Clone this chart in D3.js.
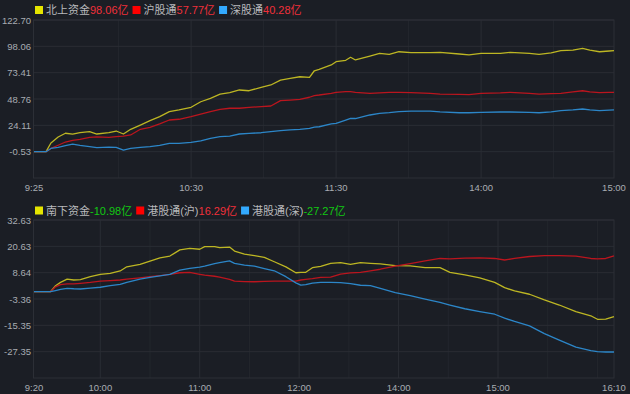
<!DOCTYPE html>
<html>
<head>
<meta charset="utf-8">
<script src="https://cdn.jsdelivr.net/npm/d3@7"></script>
<style>
  body { margin: 0; background: #1b1e25; }
  svg { display: block; }
</style>
</head>
<body>
<svg id="chart" width="630" height="394"></svg>
<script>
// ---- top panel: northbound (minute index, 9:25 = 0, lunch break removed)
const topMinutes = [0, 5, 7, 10, 13, 16, 19, 23, 26, 31, 34, 37, 40, 44, 48, 52, 56, 60, 65, 69,
  73, 77, 81, 85, 89, 94, 98, 102, 106, 110, 114, 116, 118, 123, 125, 129, 131, 133, 139, 143,
  147, 151, 156, 164, 168, 176, 180, 185, 193, 197, 205, 209, 214, 218, 223, 227, 230, 234, 238, 240];
const northTotal = [-0.53, -0.53, 7.6, 13.2, 16.7, 15.8, 17.2, 18.2, 16, 17.2, 18.8, 16, 20.4, 24.4, 28.5, 32.2, 36.9, 38.5, 41, 46.2,
  49.4, 53.4, 54.7, 57.2, 56.5, 59.7, 61.9, 66.5, 68.1, 69.6, 69, 75.2, 76.5, 80.6, 83.7, 85, 87.8, 85.3, 89, 91.5,
  90.6, 93, 92.1, 92.1, 92.4, 90.9, 90, 91.5, 91.5, 92.4, 91.5, 90.6, 92, 94, 94.6, 96.2, 94.6, 93, 93.7, 94];
const shConnect = [-0.53, -0.53, 2.5, 5.5, 8.5, 10, 11, 12.9, 13.3, 12.9, 13.5, 14.1, 15.1, 20.4, 22.3, 25.4, 29.1, 29.8, 32.2, 34.7,
  36.9, 39.1, 40.1, 40.1, 41, 41.6, 42.2, 47.2, 47.8, 48.5, 50.4, 52, 52.5, 54.1, 55, 55.6, 55.6, 55, 54.1, 54.5,
  55, 55, 54.8, 54, 53.4, 53, 52.8, 54.1, 54.5, 55, 54, 53.4, 53.8, 54.1, 55.5, 56.5, 55.5, 54.8, 55, 55];
const szConnect = [-0.53, -0.53, 2.5, 3.5, 5.2, 6.6, 5.4, 4.1, 3.2, 3.8, 3.5, 1.0, 2.6, 3.5, 4.1, 5.4, 7.3, 7.3, 8.2, 9.5,
  12, 13.5, 14.1, 16, 16.6, 17.2, 18.2, 19.1, 19.8, 20.4, 21.3, 22.5, 22.8, 25.4, 26, 29.1, 30.7, 30.5, 33.8, 35.4,
  36, 36.9, 37.5, 37.5, 36.8, 35.9, 35.9, 36.2, 36.6, 36.6, 36.3, 35.9, 36.8, 37.8, 38.5, 39.4, 38.5, 37.8, 38.3, 38.5];
const topYTicks = [122.70, 98.06, 73.41, 48.76, 24.11, -0.53];
const topYMin = -25.17;
const topXTicks = [0, 65, 125, 185, 240];
const topXLabels = ["9:25", "10:30", "11:30", "14:00", "15:00"];
const topXGrid = [35, 65, 95, 125, 155, 185, 215];
const topNames = ["北上资金", "沪股通", "深股通"];
const topValues = ["98.06亿", "57.77亿", "40.28亿"];

// ---- bottom panel: southbound (minute index, 9:20 = 0, lunch break removed)
const botMinutes = [0, 10, 13, 16, 20, 24, 28, 34, 40, 46, 52, 56, 64, 70, 76, 82, 88, 94, 100, 103,
  109, 112, 118, 121, 127, 133, 139, 145, 152, 158, 161, 164, 168, 173, 179, 185, 191, 197, 203, 209,
  218, 227, 236, 245, 251, 260, 269, 278, 284, 290, 299, 308, 317, 327, 336, 340, 345, 350];
const southTotal = [0, 0, 2.7, 4.2, 5.7, 5.3, 5.5, 6.8, 7.9, 8.3, 9.4, 11.3, 12.4, 13.9, 15.4, 16.2, 19, 19.7, 19.3, 20.5,
  20.5, 20, 20.3, 18.5, 17.1, 16.4, 15.6, 13.6, 11.3, 8.6, 8.8, 8.8, 10.9, 11.5, 12.9, 13.2, 12.4, 13.2, 12.9, 12.6,
  11.8, 11.7, 10.9, 10.9, 8.8, 7.6, 6.3, 4.2, 1.8, 0.3, -1.2, -3.8, -6.1, -9.1, -11, -12.6, -12.5, -11.4];
const hkSh = [0, 0, 2.2, 3.2, 3.5, 3.5, 3.8, 4.2, 4.8, 5.0, 5.3, 5.7, 6.3, 6.8, 7.3, 7.9, 8.6, 8.8, 7.9, 7.5,
  7.0, 6.6, 5.6, 4.8, 4.6, 4.5, 4.7, 4.8, 4.8, 4.8, 5.3, 5.6, 5.9, 6.5, 6.6, 8.0, 8.5, 8.8, 9.5, 10.2,
  11.6, 12.8, 14, 15.1, 14.9, 15.3, 15.4, 15.1, 14.4, 15.1, 16.0, 16.4, 16.4, 16.2, 15.1, 14.9, 15.1, 16.3];
const hkSz = [0, 0, 0.5, 1.0, 1.5, 1.3, 1.2, 1.6, 2.0, 2.7, 3.3, 4.2, 5.7, 6.5, 7.2, 7.9, 9.8, 10.6, 11.2, 11.6,
  12.8, 13.2, 14.0, 12.9, 12.1, 11.6, 10.5, 9.5, 6.8, 4.0, 3.0, 3.2, 3.9, 4.2, 4.2, 4.1, 3.6, 2.9, 2.7, 1.5,
  -0.5, -1.8, -3.4, -4.9, -6.1, -7.8, -9.1, -10.3, -12.1, -13.6, -15.6, -19.1, -22.1, -25.3, -26.9, -27.3, -27.5, -27.5];
const botYTicks = [32.63, 20.63, 8.64, -3.36, -15.35, -27.35];
const botYMin = -39.35;
const botXTicks = [0, 40, 100, 160, 220, 280, 350];
const botXLabels = ["9:20", "10:00", "11:00", "12:00", "14:00", "15:00", "16:10"];
const botXGrid = [40, 70, 100, 130, 160, 190, 220, 250, 280, 310, 340];
const botNames = ["南下资金", "港股通(沪)", "港股通(深)"];
const botValues = ["-10.98亿", "16.29亿", "-27.27亿"];

const lineColors = ["#bdb623", "#bb151e", "#2c86c8"];
const keyColors = ["#e5e500", "#ff0000", "#33aaff"];
const upColor = "#f0303a", downColor = "#12c812";
const font = "Arial, 'Liberation Sans', 'Noto Sans CJK SC', sans-serif";

const svg = d3.select("#chart");
svg.append("rect").attr("width", 630).attr("height", 394).attr("fill", "#1b1e25");

function drawPanel(p) {
  const x = d3.scaleLinear().domain([0, p.xMax]).range([34, 614]);
  const y = d3.scaleLinear().domain([p.yMin, p.yTicks[0]]).range([p.bottom, p.top]);
  const g = svg.append("g");

  // vertical grid
  g.selectAll("line.vgrid").data(p.xGrid).join("line")
    .attr("class", "vgrid")
    .attr("x1", d => x(d)).attr("x2", d => x(d))
    .attr("y1", p.top).attr("y2", p.bottom)
    .attr("stroke", d => p.xTicks.includes(d) ? "#2a2d34" : "#23262d");

  // horizontal grid
  g.selectAll("line.hgrid").data(p.yTicks).join("line")
    .attr("class", "hgrid")
    .attr("x1", 34).attr("x2", 614)
    .attr("y1", d => y(d)).attr("y2", d => y(d))
    .attr("stroke", "#2a2d34");

  // frame
  g.append("rect")
    .attr("x", 33.5).attr("y", p.top).attr("width", 580.5).attr("height", p.bottom - p.top)
    .attr("fill", "none").attr("stroke", "#2c2f36");

  // lines
  const line = d3.line().x(d => x(d[0])).y(d => y(d[1]));
  p.series.forEach((s, i) => {
    g.append("path")
      .datum(p.minutes.map((m, j) => [m, s[j]]))
      .attr("d", line)
      .attr("fill", "none")
      .attr("stroke", lineColors[i])
      .attr("stroke-width", 1.3)
      .attr("stroke-linejoin", "round");
  });

  // y labels
  p.yTicks.forEach(v => {
    g.append("text")
      .attr("class", "ylabel")
      .attr("x", 31).attr("y", y(v) + 3.5)
      .attr("text-anchor", "end")
      .attr("fill", "#a8acb2").attr("font-size", 9.5).attr("font-family", font)
      .text(v.toFixed(2));
  });

  // x labels
  p.xTicks.forEach((m, i) => {
    g.append("text")
      .attr("class", "xlabel")
      .attr("x", x(m)).attr("y", p.bottom + 12.5)
      .attr("text-anchor", "middle")
      .attr("fill", "#a8acb2").attr("font-size", 9.5).attr("font-family", font)
      .text(p.xLabels[i]);
  });

  // legend
  let lx = 35;
  const ly = p.legendY;
  p.names.forEach((name, i) => {
    g.append("rect").attr("x", lx).attr("y", ly - 4).attr("width", 8).attr("height", 8)
      .attr("fill", keyColors[i]);
    lx += 11;
    const t1 = g.append("text").attr("x", lx).attr("y", ly + 4)
      .attr("fill", "#b8b9bc").attr("font-size", 11).attr("font-family", font).text(name);
    lx += t1.node().getComputedTextLength();
    const v = p.values[i];
    const t2 = g.append("text").attr("x", lx).attr("y", ly + 4)
      .attr("fill", v.startsWith("-") ? downColor : upColor)
      .attr("font-size", 11).attr("font-family", font).text(v);
    lx += t2.node().getComputedTextLength() + 4;
  });
}

drawPanel({
  top: 20, bottom: 178, legendY: 10,
  xMax: 240, xTicks: topXTicks, xLabels: topXLabels, xGrid: topXGrid,
  yTicks: topYTicks, yMin: topYMin,
  minutes: topMinutes, series: [northTotal, shConnect, szConnect],
  names: topNames, values: topValues
});

drawPanel({
  top: 220, bottom: 378, legendY: 210.5,
  xMax: 350, xTicks: botXTicks, xLabels: botXLabels, xGrid: botXGrid,
  yTicks: botYTicks, yMin: botYMin,
  minutes: botMinutes, series: [southTotal, hkSh, hkSz],
  names: botNames, values: botValues
});
</script>
</body>
</html>
